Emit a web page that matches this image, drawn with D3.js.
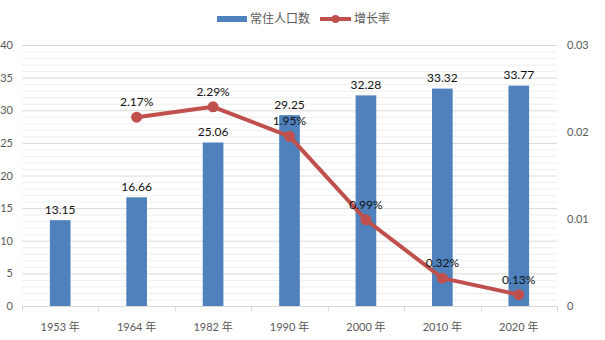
<!DOCTYPE html>
<html>
<head>
<meta charset="utf-8">
<script src="https://cdn.jsdelivr.net/npm/d3@7"></script>
<style>
  html, body { margin: 0; padding: 0; background: #fff; }
  svg text { font-family: Lato, "Noto Sans CJK SC", sans-serif; }
</style>
</head>
<body>
<svg id="chart" width="605" height="340"></svg>
<script>
// Census years, resident population (unit as labelled) and growth rate
const years = ["1953 年", "1964 年", "1982 年", "1990 年", "2000 年", "2010 年", "2020 年"];
const population = [13.15, 16.66, 25.06, 29.25, 32.28, 33.32, 33.77];
const growthRate = [null, 0.0217, 0.0229, 0.0195, 0.0099, 0.0032, 0.0013];
const leftTicks = [0, 5, 10, 15, 20, 25, 30, 35, 40];
const rightTicks = [0, 0.01, 0.02, 0.03];
const seriesNames = ["常住人口数", "增长率"];

const svg = d3.select("#chart");
const margin = { left: 22, right: 48, top: 45, bottom: 34 };
const W = 605, H = 340;
const x0 = margin.left, x1 = W - margin.right;
const yTop = margin.top, yBot = H - margin.bottom;

const x = d3.scaleBand().domain(years).range([x0, x1]).paddingInner(0).paddingOuter(0);
const yL = d3.scaleLinear().domain([0, 40]).range([yBot, yTop]);
const yR = d3.scaleLinear().domain([0, 0.03]).range([yBot, yTop]);

const blue = "#4F81BD", red = "#C0504D", axisText = "#595959";
const font = "Lato, 'Noto Sans CJK SC', sans-serif";

// minor gridlines every 1 unit
svg.append("g")
  .selectAll("line")
  .data(d3.range(1, 40).filter(v => v % 5 !== 0))
  .join("line")
  .attr("x1", x0).attr("x2", x1)
  .attr("y1", d => yL(d) + 0.5).attr("y2", d => yL(d) + 0.5)
  .attr("stroke", "#efefef").attr("stroke-width", 1);

// major gridlines
svg.append("g")
  .selectAll("line")
  .data(leftTicks.filter(v => v > 0))
  .join("line")
  .attr("x1", x0).attr("x2", x1)
  .attr("y1", d => yL(d) + 0.5).attr("y2", d => yL(d) + 0.5)
  .attr("stroke", "#d9d9d9").attr("stroke-width", 1);

// left axis
const axL = svg.append("g").attr("transform", `translate(${x0 - 9},0)`)
  .call(d3.axisLeft(yL).tickValues(leftTicks).tickSize(0).tickPadding(0));
axL.select(".domain").remove();
axL.selectAll("text").attr("fill", axisText).style("font-size", "11px").style("font-family", font);

// right axis
const axR = svg.append("g").attr("transform", `translate(${x1 + 10},0)`)
  .call(d3.axisRight(yR).tickValues(rightTicks).tickFormat(d => d === 0 ? "0" : d3.format(".2f")(d)).tickSize(0).tickPadding(0));
axR.select(".domain").remove();
axR.selectAll("text").attr("fill", axisText).style("font-size", "11px").style("font-family", font);

// bottom axis with category boundary ticks
const axB = svg.append("g").attr("transform", `translate(0,${yBot + 0.5})`);
axB.append("line").attr("x1", x0).attr("x2", x1).attr("stroke", "#d9d9d9");
const bounds = years.map(d => x(d)).concat([x1]);
axB.selectAll("line.tk").data(bounds).join("line").attr("class", "tk")
  .attr("x1", d => Math.round(d) + 0.5).attr("x2", d => Math.round(d) + 0.5)
  .attr("y1", 0).attr("y2", 5).attr("stroke", "#d9d9d9");
axB.selectAll("text").data(years).join("text")
  .attr("x", d => x(d) + x.bandwidth() / 2)
  .attr("y", 24)
  .attr("text-anchor", "middle")
  .attr("fill", axisText).style("font-size", "11px").style("font-family", font)
  .text(d => d);

// bars
const barW = x.bandwidth() * 0.27;
svg.append("g").selectAll("rect").data(years).join("rect")
  .attr("x", (d) => x(d) + (x.bandwidth() - barW) / 2)
  .attr("width", barW)
  .attr("y", (d, i) => yL(population[i]))
  .attr("height", (d, i) => yBot - yL(population[i]))
  .attr("fill", blue);

// bar labels
svg.append("g").selectAll("text").data(years).join("text")
  .attr("x", d => x(d) + x.bandwidth() / 2)
  .attr("y", (d, i) => yL(population[i]) - 6.5)
  .attr("text-anchor", "middle")
  .attr("fill", "#111").style("font-size", "12px").style("font-family", font)
  .text((d, i) => population[i].toFixed(2));

// growth-rate line
const pts = years.map((d, i) => ({ cat: d, v: growthRate[i] })).filter(p => p.v !== null);
const line = d3.line().x(p => x(p.cat) + x.bandwidth() / 2).y(p => yR(p.v));
svg.append("path").datum(pts)
  .attr("d", line).attr("fill", "none")
  .attr("stroke", red).attr("stroke-width", 4).attr("stroke-linejoin", "round");
svg.append("g").selectAll("circle").data(pts).join("circle")
  .attr("cx", p => x(p.cat) + x.bandwidth() / 2)
  .attr("cy", p => yR(p.v))
  .attr("r", 5.5).attr("fill", red);

// rate labels
svg.append("g").selectAll("text").data(pts).join("text")
  .attr("x", p => x(p.cat) + x.bandwidth() / 2)
  .attr("y", p => yR(p.v) - 11)
  .attr("text-anchor", "middle")
  .attr("fill", "#111").style("font-size", "12px").style("font-family", font)
  .text(p => (p.v * 100).toFixed(2) + "%");

// legend
const lg = svg.append("g").attr("transform", "translate(217,19)");
lg.append("rect").attr("x", 0).attr("y", -3).attr("width", 30).attr("height", 6).attr("fill", blue);
lg.append("text").attr("x", 33).attr("y", 4).attr("fill", axisText)
  .style("font-size", "12px").style("font-family", font).text(seriesNames[0]);
lg.append("line").attr("x1", 103).attr("x2", 134).attr("y1", 0).attr("y2", 0)
  .attr("stroke", red).attr("stroke-width", 4);
lg.append("circle").attr("cx", 118.5).attr("cy", 0).attr("r", 4).attr("fill", red);
lg.append("text").attr("x", 137).attr("y", 4).attr("fill", axisText)
  .style("font-size", "12px").style("font-family", font).text(seriesNames[1]);
</script>
</body>
</html>
